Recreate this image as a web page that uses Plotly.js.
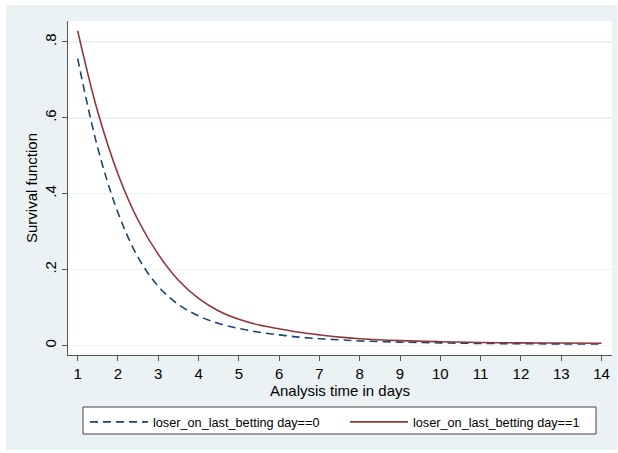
<!DOCTYPE html>
<html>
<head>
<meta charset="utf-8">
<script src="https://cdn.plot.ly/plotly-3.0.1.min.js"></script>
<style>
  html, body { margin: 0; padding: 0; background: #ffffff; }
  #chart { position: absolute; left: 6px; top: 5px; width: 611px; height: 445px; }
</style>
</head>
<body>
<div id="chart"></div>
<script>
// Analysis time (days)
var days = [1, 1.5, 2, 2.5, 3, 3.5, 4, 4.5, 5, 5.5, 6, 6.5, 7, 7.5, 8, 9, 10, 11, 12, 13, 14];
// Survival, loser_on_last_betting day==0
var survival0 = [0.756, 0.520, 0.350, 0.232, 0.156, 0.108, 0.078, 0.058, 0.045, 0.035, 0.028, 0.022, 0.018, 0.015, 0.012, 0.009, 0.007, 0.0055, 0.0048, 0.0042, 0.004];
// Survival, loser_on_last_betting day==1
var survival1 = [0.829, 0.615, 0.452, 0.330, 0.240, 0.172, 0.124, 0.091, 0.069, 0.054, 0.044, 0.035, 0.028, 0.022, 0.018, 0.013, 0.010, 0.008, 0.007, 0.0065, 0.006];
var seriesNames = ["loser_on_last_betting day==0", "loser_on_last_betting day==1"];
var yTickVals = [0, 0.2, 0.4, 0.6, 0.8];
var yTickText = ["0", ".2", ".4", ".6", ".8"];
var xTickVals = [1, 2, 3, 4, 5, 6, 7, 8, 9, 10, 11, 12, 13, 14];

var traces = [
  {
    x: days, y: survival0, name: seriesNames[0], type: "scatter", mode: "lines",
    line: { color: "#1a476f", width: 1.6, dash: "8px,5px", shape: "spline", smoothing: 1 }
  },
  {
    x: days, y: survival1, name: seriesNames[1], type: "scatter", mode: "lines",
    line: { color: "#90353b", width: 1.6, shape: "spline", smoothing: 1 }
  }
];

var font = "Liberation Sans, Arial, sans-serif";
var layout = {
  width: 611, height: 445,
  paper_bgcolor: "#eaf2f3",
  plot_bgcolor: "#ffffff",
  margin: { l: 62, r: 5, t: 16, b: 95, pad: 0, autoexpand: false },
  font: { family: font, color: "#000000", size: 15 },
  showlegend: true,
  legend: {
    orientation: "h",
    x: 0.03125, xanchor: "left",
    y: -0.156, yanchor: "top",
    bgcolor: "rgba(0,0,0,0)",
    borderwidth: 0,
    font: { family: font, size: 12.7, color: "#000000" },
    itemwidth: 58,
    entrywidth: 187,
    traceorder: "normal"
  },
  shapes: [
    {
      type: "rect", xref: "paper", yref: "paper", layer: "above",
      x0: (83 - 68) / 544, x1: (596 - 68) / 544,
      y0: -(407 - 355) / 334, y1: -(434 - 355) / 334,
      fillcolor: "#ffffff", line: { color: "#444444", width: 1 }
    }
  ],
  xaxis: {
    range: [0.76, 14.26],
    tickmode: "array", tickvals: xTickVals,
    ticks: "outside", ticklen: 5, tickwidth: 1, tickcolor: "#555555",
    showline: true, linecolor: "#555555", linewidth: 1,
    showgrid: false, zeroline: false,
    tickfont: { family: font, size: 15 },
    title: { text: "Analysis time in days", font: { family: font, size: 15 }, standoff: 2 }
  },
  yaxis: {
    range: [-0.025, 0.855],
    tickmode: "array", tickvals: yTickVals, ticktext: yTickText,
    ticks: "outside", ticklen: 5, tickwidth: 1, tickcolor: "#555555",
    tickangle: -90,
    showline: true, linecolor: "#555555", linewidth: 1,
    showgrid: true, gridcolor: "#eaf2f3", gridwidth: 1.5,
    zeroline: false,
    tickfont: { family: font, size: 15 },
    title: { text: "Survival function", font: { family: font, size: 15 }, standoff: 0 }
  }
};

Plotly.newPlot("chart", traces, layout, { displayModeBar: false, staticPlot: true });
</script>
</body>
</html>
